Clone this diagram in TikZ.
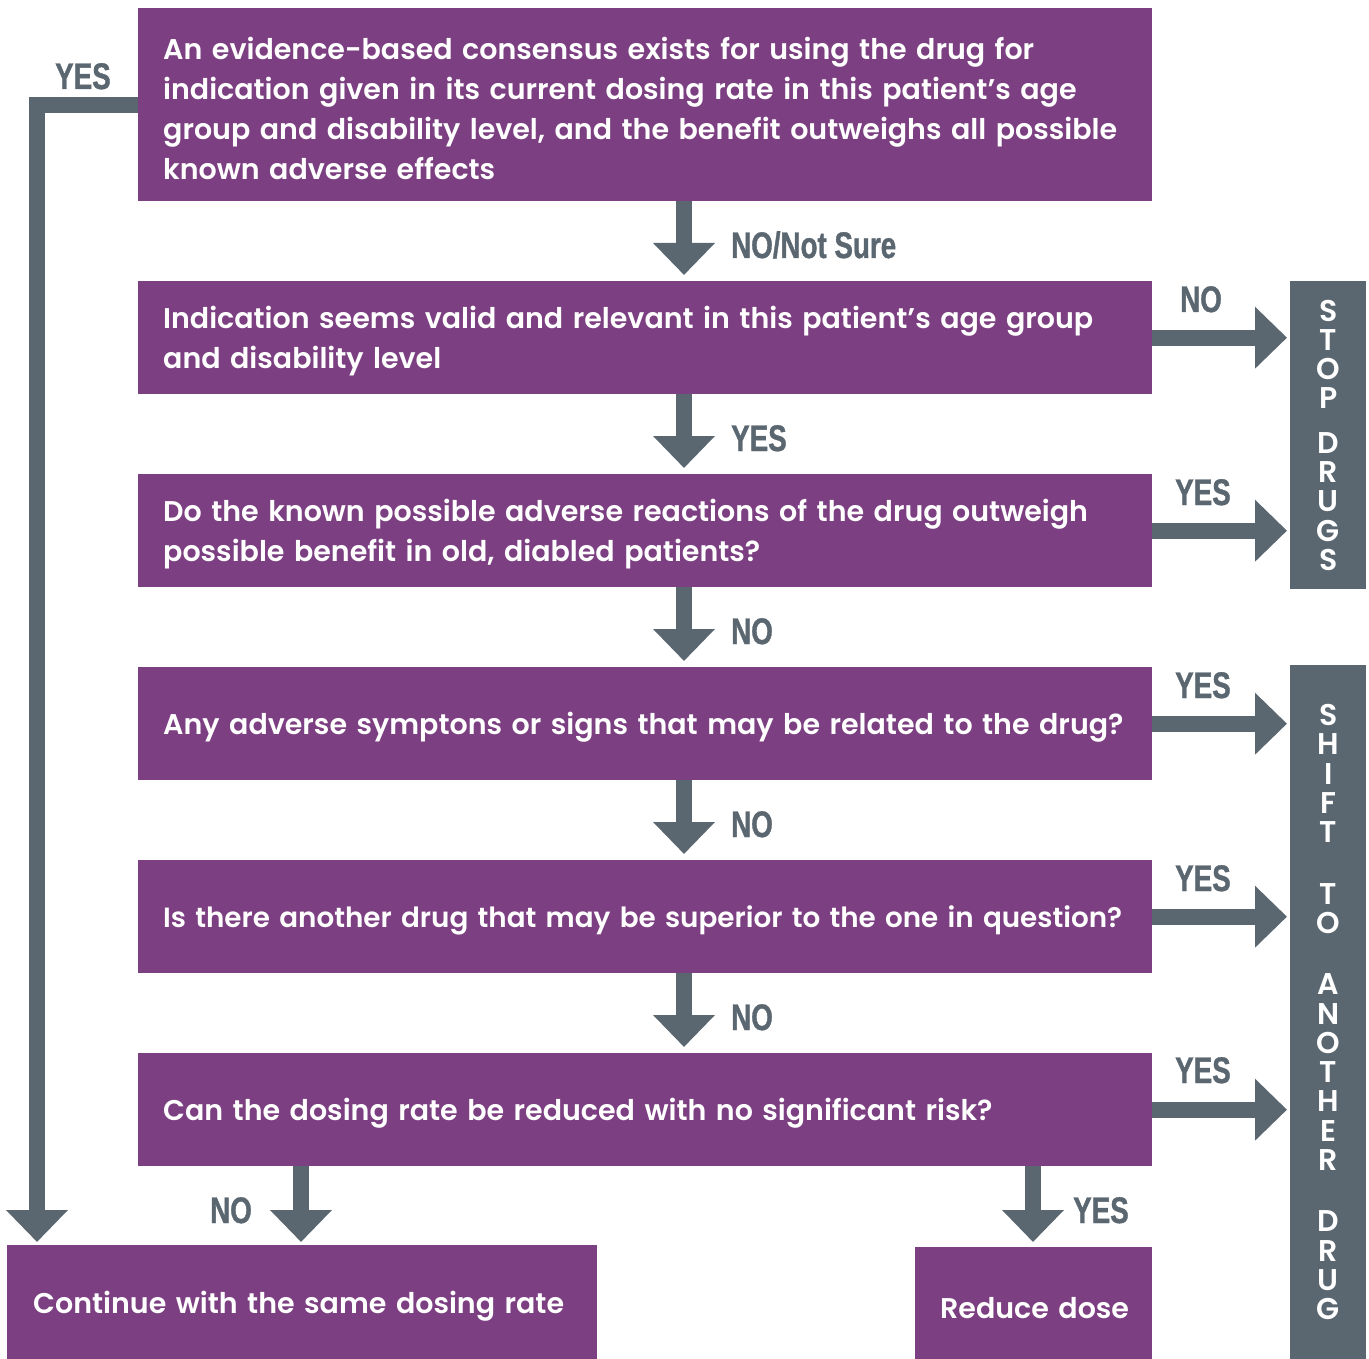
\documentclass[tikz,border=0pt]{standalone}
\usepackage{fontspec}
\usetikzlibrary{arrows.meta,calc}
\newfontfamily\boxfont{Poppins SemiBold}
\newfontfamily\labfont{Liberation Sans}[FakeStretch=0.75,FakeBold=1]
\definecolor{purp}{RGB}{124,63,129}
\definecolor{slate}{RGB}{90,102,112}
\newcommand\boxstrut{\rule{0pt}{30pt}}
\begin{document}
\begin{tikzpicture}[x=1pt,y=-1pt,
  box/.style={fill=purp, text=white, font=\boxfont\fontsize{28.5}{40}\selectfont,
    align=left, anchor=north west, inner xsep=25pt, inner ysep=0pt,
    text width=964pt, minimum height=113pt, execute at begin node=\boxstrut},
  side/.style={fill=slate, text=white, anchor=north west, minimum width=76pt,
    inner sep=0pt, align=center, font=\boxfont\fontsize{30}{29.3}\selectfont},
  lab/.style={text=slate, font=\labfont\bfseries\fontsize{37}{40}\selectfont,
    inner sep=0pt, anchor=base west},
  arr/.style={draw=slate, line width=16pt, line join=miter,
    -{Triangle[width=60pt,length=32pt]}}]
\useasboundingbox (0,0) rectangle (1369,1359);
% boxes
\node[box, minimum height=193pt] (b1) at (138,8)
  {\mbox{An evidence-based consensus exists for using the drug for}\\
   \mbox{indication given in its current dosing rate in this patient’s age}\\
   \mbox{group and disability level, and the benefit outweighs all possible}\\
   \mbox{known adverse effects}};
\node[box] (b2) at (138,281)
  {\mbox{Indication seems valid and relevant in this patient’s age group}\\
   \mbox{and disability level}};
\node[box] (b3) at (138,474)
  {\mbox{Do the known possible adverse reactions of the drug outweigh}\\
   \mbox{possible benefit in old, diabled patients?}};
\node[box] (b4) at (138,667)
  {\mbox{Any adverse symptons or signs that may be related to the drug?}};
\node[box, font=\boxfont\fontsize{27.8}{40}\selectfont] (b5) at (138,860)
  {\mbox{Is there another drug that may be superior to the one in question?}};
\node[box] (b6) at (138,1053)
  {\mbox{Can the dosing rate be reduced with no significant risk?}};
\node[box, text width=538pt, inner xsep=26pt, minimum height=114pt] (b7) at (7,1245)
  {\mbox{Continue with the same dosing rate}};
\node[box, text width=187pt, minimum height=112pt] (b8) at (915,1247)
  {\mbox{Reduce dose}};
% side bars
\node[side, minimum height=308pt] (stop) at (1290,281)
  {S\\T\\O\\P\\[15pt]D\\R\\U\\G\\S};
\node[side, minimum height=694pt] (shift) at (1290,665)
  {S\\H\\I\\F\\T\\[32pt]T\\O\\[32pt]A\\N\\O\\T\\H\\E\\R\\[32pt]D\\R\\U\\G};
% arrow columns
\coordinate (ax) at (684,0);
\coordinate (lx) at (37,0);
\coordinate (nx) at (301,0);
\coordinate (yx) at (1033,0);
\coordinate (ly) at (0,105);
% down arrows
\draw[arr, shorten >=6pt] (b1.south -| ax) -- (b2.north -| ax);
\draw[arr, shorten >=6pt] (b2.south -| ax) -- (b3.north -| ax);
\draw[arr, shorten >=6pt] (b3.south -| ax) -- (b4.north -| ax);
\draw[arr, shorten >=6pt] (b4.south -| ax) -- (b5.north -| ax);
\draw[arr, shorten >=6pt] (b5.south -| ax) -- (b6.north -| ax);
\draw[arr, shorten >=3pt] (b6.south -| nx) -- (b7.north -| nx);
\draw[arr, shorten >=5pt] (b6.south -| yx) -- (b8.north -| yx);
% left YES arrow
\draw[arr, shorten >=3pt] (b1.west |- ly) -- (lx |- ly) -- (b7.north -| lx);
% right arrows
\draw[arr, shorten >=3pt] (b2.east) -- (stop.west |- b2.east);
\draw[arr, shorten >=3pt] (b3.east) -- (stop.west |- b3.east);
\draw[arr, shorten >=3pt] (b4.east) -- (shift.west |- b4.east);
\draw[arr, shorten >=3pt] (b5.east) -- (shift.west |- b5.east);
\draw[arr, shorten >=3pt] (b6.east) -- (shift.west |- b6.east);
% labels
\node[lab] (l0) at (55,89) {YES};
\node[lab] (l1) at (731,258) {NO/Not Sure};
\node[lab] (l2) at (731,451) {YES};
\node[lab] (l3) at (731,644) {NO};
\node[lab] (l4) at (731,837) {NO};
\node[lab] (l5) at (731,1030) {NO};
\node[lab] (r1) at (1180,312) {NO};
\node[lab] (r2) at (1175,505) {YES};
\node[lab] (r3) at (1175,698) {YES};
\node[lab] (r4) at (1175,891) {YES};
\node[lab] (r5) at (1175,1083) {YES};
\node[lab] (bn) at (210,1223) {NO};
\node[lab] (by) at (1073,1223) {YES};
\end{tikzpicture}
\end{document}
